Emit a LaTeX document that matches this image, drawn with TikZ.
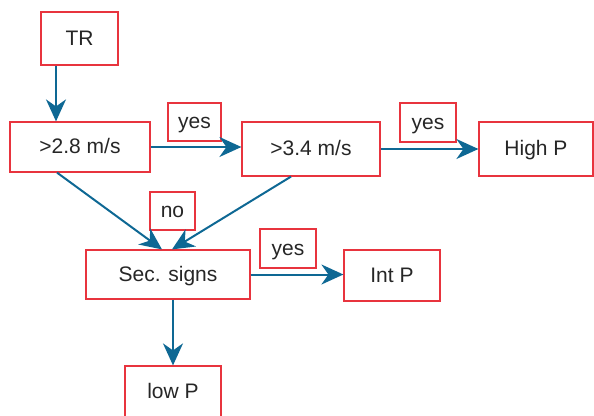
\documentclass[tikz,border=0pt]{standalone}
\usepackage{fontspec}
\setmainfont{Liberation Sans}
\usepackage{xcolor}
\usetikzlibrary{arrows.meta}
\definecolor{boxred}{RGB}{232,52,62}
\definecolor{flowblue}{RGB}{14,104,148}
\tikzset{
  box/.style={draw=boxred,line width=1.2pt,inner sep=0pt,text height=13pt,text depth=0pt,
    font=\fontsize{21}{24}\selectfont,text=black!85},
  tag/.style={box},
  flow/.style={draw=flowblue,line width=2pt,-{Stealth[length=22pt,width=20pt,inset=7pt]}}
}
\begin{document}
\begin{tikzpicture}[x=1pt,y=-1pt]
\useasboundingbox (0,0) rectangle (594,415);
% boxes
\node[box,minimum width=77pt,minimum height=53pt] (tr) at (79.5,38.5) {TR};
\node[box,minimum width=140pt,minimum height=50pt] (v28) at (80,147) {>2.8 m/s};
\node[box,minimum width=138pt,minimum height=54pt] (v34) at (311,149) {>3.4 m/s};
\node[box,minimum width=114pt,minimum height=54pt] (highp) at (536,149) {High P};
\node[box,minimum width=164pt,minimum height=49pt] (sec) at (168,274.5) {Sec. signs};
\node[box,minimum width=96pt,minimum height=51pt] (intp) at (392,275.5) {Int P};
\node[box,minimum width=96pt,minimum height=52pt] (lowp) at (173,392) {low P};
% labels
\node[tag,minimum width=53pt,minimum height=38pt] (yesa) at (194.5,122) {yes};
\node[tag,minimum width=56pt,minimum height=39pt] (yesb) at (428,122.5) {yes};
\node[tag,minimum width=45pt,minimum height=38pt] (no) at (172.5,211) {no};
\node[tag,minimum width=56pt,minimum height=39pt] (yesc) at (288,248.5) {yes};
% arrows
\draw[flow] ([xshift=-23.5pt]tr.south) -- ([xshift=-23.5pt]tr.south |- v28.north);
\draw[flow] (v28.east) -- (v28.east -| v34.west);
\draw[flow] (v34.east) -- (highp.west);
\draw[flow] ([xshift=-23pt]v28.south) -- ([xshift=-6pt]sec.north);
\draw[flow] ([xshift=-20pt]v34.south) -- ([xshift=4pt]sec.north);
\draw[flow] (sec.east) -- (sec.east -| intp.west);
\draw[flow] ([xshift=5pt]sec.south) -- ([xshift=5pt]sec.south |- lowp.north);
\end{tikzpicture}
\end{document}
